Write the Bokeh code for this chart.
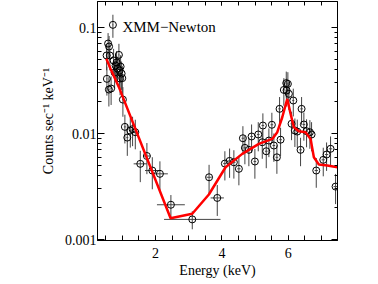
from bokeh.plotting import figure
from bokeh.models import (FixedTicker, LogAxis, LinearAxis, CustomJSTickFormatter,
                          Label, Range1d)
from bokeh.embed import file_html
from bokeh.resources import INLINE

# ---- data ----
energy = [0.533, 0.524, 0.569, 0.599, 0.623, 0.593, 0.660, 0.714, 0.735, 0.765,
          0.795, 0.825, 0.855, 0.895, 0.916, 0.946, 0.976, 0.931, 0.997, 1.015,
          1.075, 1.148, 1.238, 1.307, 1.389, 1.539, 1.738, 1.901, 2.130, 2.461,
          3.105, 3.611, 3.858, 4.087, 4.229, 4.358, 4.509, 4.630, 4.690, 4.810,
          4.892, 4.991, 5.093, 5.214, 5.232, 5.334, 5.413, 5.503, 5.563, 5.654,
          5.735, 5.765, 5.864, 5.937, 5.985, 5.946, 6.015, 6.148, 6.096, 6.196,
          6.268, 6.398, 6.467, 6.548, 6.648, 6.699, 6.367, 6.840, 7.051, 7.151,
          7.271, 7.422]
rate = [0.0328, 0.0545, 0.0706, 0.0662, 0.0545, 0.0260, 0.0266, 0.106, 0.0489, 0.0376,
        0.0438, 0.0468, 0.0410, 0.0552, 0.0393, 0.0428, 0.0368, 0.0330, 0.0333, 0.0209,
        0.01156, 0.00916, 0.01067, 0.0110, 0.0103, 0.00518, 0.00614, 0.00448, 0.00417, 0.00213,
        0.00155, 0.00387, 0.00247, 0.00521, 0.00552, 0.00536, 0.00465, 0.00903, 0.00733, 0.00702,
        0.00938, 0.00545, 0.0098, 0.00828, 0.0119, 0.00681, 0.00859, 0.0121, 0.00771, 0.00597,
        0.0171, 0.00875, 0.0258, 0.0299, 0.0294, 0.0255, 0.0237, 0.0205, 0.01236, 0.01067,
        0.01044, 0.0171, 0.01216, 0.01052, 0.01028, 0.0098, 0.00702, 0.00448, 0.00565, 0.00634,
        0.00718, 0.00316]
energy_err = [0.015, 0.015, 0.015, 0.015, 0.015, 0.015, 0.015, 0.015, 0.015, 0.015,
              0.015, 0.015, 0.015, 0.015, 0.015, 0.015, 0.015, 0.015, 0.015, 0.02,
              0.03, 0.03, 0.04, 0.04, 0.04, 0.2, 0.1, 0.22, 0.24, 0.42,
              0.85, 0.08, 0.2, 0.05, 0.05, 0.05, 0.05, 0.04, 0.04, 0.04,
              0.04, 0.04, 0.04, 0.04, 0.04, 0.04, 0.04, 0.04, 0.04, 0.04,
              0.04, 0.04, 0.03, 0.03, 0.03, 0.03, 0.03, 0.03, 0.03, 0.03,
              0.03, 0.04, 0.04, 0.04, 0.04, 0.04, 0.04, 0.05, 0.05, 0.05,
              0.05, 0.06]
rate_err = [0.010, 0.015, 0.018, 0.017, 0.015, 0.008, 0.008, 0.026, 0.014, 0.011,
            0.013, 0.013, 0.012, 0.015, 0.012, 0.012, 0.011, 0.010, 0.010, 0.0065,
            0.0035, 0.003, 0.0033, 0.0034, 0.0032, 0.0017, 0.002, 0.0015, 0.0013, 0.0005,
            0.0003, 0.0012, 0.0008, 0.0016, 0.0017, 0.0016, 0.0014, 0.0027, 0.0022, 0.0021,
            0.0028, 0.0017, 0.003, 0.0025, 0.0036, 0.0021, 0.0026, 0.0036, 0.0023, 0.0018,
            0.005, 0.0026, 0.0075, 0.0085, 0.0085, 0.0075, 0.007, 0.006, 0.0037, 0.0032,
            0.0031, 0.005, 0.0036, 0.0031, 0.0031, 0.003, 0.0021, 0.0014, 0.0017, 0.0019,
            0.0022, 0.001]

model_energy = [0.515, 0.645, 0.895, 2.452, 3.105, 3.605, 4.108, 4.611, 5.111, 5.515,
                5.666, 5.816, 5.967, 6.066, 6.166, 6.316, 6.518, 6.669, 6.768, 6.919,
                7.172, 7.48]
model_rate = [0.0507, 0.0407, 0.0274, 0.00159, 0.00175, 0.00266, 0.00481, 0.00643, 0.0080, 0.0089,
              0.0103, 0.01425, 0.0212, 0.01535, 0.01146, 0.0105, 0.0103, 0.0089, 0.00597, 0.0051,
              0.0050, 0.0048]

x_major = [2, 4, 6]
x_minor = [0.5 * i for i in range(1, 15)]
y_major = [0.001, 0.01, 0.1]
y_minor = [m * d for d in (0.001, 0.01, 0.1) for m in range(1, 10)]

FONT = "Liberation Serif"

p = figure(width=347, height=284,
           x_range=Range1d(0.25, 7.48), y_range=Range1d(0.00098, 0.176),
           y_axis_type="log", output_backend="svg", toolbar_location=None,
           min_border_left=97, min_border_right=10, min_border_top=1,
           min_border_bottom=44)
p.grid.visible = False
p.outline_line_color = "black"
p.outline_line_width = 1
p.background_fill_color = "white"
p.border_fill_color = "white"

# bottom axis
xa = p.xaxis[0]
xa.ticker = FixedTicker(ticks=x_major, minor_ticks=x_minor)
xa.major_tick_in = 5
xa.major_tick_out = 0
xa.minor_tick_in = 5
xa.minor_tick_out = 0
xa.major_label_standoff = 7
xa.major_label_text_font = FONT
xa.major_label_text_font_size = "14px"
xa.axis_label = "Energy (keV)"
xa.axis_label_text_font = FONT
xa.axis_label_text_font_size = "14px"
xa.axis_label_text_font_style = "normal"
xa.axis_label_standoff = 2

# left axis
ya = p.yaxis[0]
ya.ticker = FixedTicker(ticks=y_major, minor_ticks=y_minor)
ya.formatter = CustomJSTickFormatter(code="return tick.toString();")
ya.major_tick_in = 7
ya.major_tick_out = 0
ya.minor_tick_in = 4
ya.minor_tick_out = 0
ya.major_label_standoff = 1
ya.major_label_text_font = FONT
ya.major_label_text_font_size = "14px"
ya.axis_label = "Counts sec\u207b\u00b9 keV\u207b\u00b9"
ya.axis_label_text_font = FONT
ya.axis_label_text_font_size = "14px"
ya.axis_label_text_font_style = "normal"
ya.axis_label_standoff = 6

for ax in (xa, ya):
    ax.axis_line_color = "black"
    ax.major_tick_line_color = "black"
    ax.minor_tick_line_color = "black"
    ax.major_label_text_color = "black"
    ax.axis_label_text_color = "black"

# mirror axes (ticks only, no labels)
ra = LogAxis(ticker=FixedTicker(ticks=y_major, minor_ticks=y_minor),
             major_tick_in=6, major_tick_out=0, minor_tick_in=3, minor_tick_out=0,
             major_label_standoff=0, axis_line_color="black")
ra.major_label_text_font_size = "1px"
ra.major_label_text_alpha = 0
ra.major_label_overrides = {t: "" for t in y_major}
p.add_layout(ra, "right")
ta = LinearAxis(ticker=FixedTicker(ticks=x_major, minor_ticks=x_minor),
                major_tick_in=4, major_tick_out=0, minor_tick_in=4, minor_tick_out=0,
                major_label_standoff=0, axis_line_color="black")
ta.major_label_text_font_size = "1px"
ta.major_label_text_alpha = 0
ta.major_label_overrides = {t: "" for t in x_major}
p.add_layout(ta, "above")

# error bars
p.segment(x0=[e - d for e, d in zip(energy, energy_err)], y0=rate,
          x1=[e + d for e, d in zip(energy, energy_err)], y1=rate,
          line_color="#444444", line_width=1)
p.segment(x0=energy, y0=[r - d for r, d in zip(rate, rate_err)],
          x1=energy, y1=[r + d for r, d in zip(rate, rate_err)],
          line_color="#444444", line_width=1)
p.scatter(energy, rate, marker="circle", size=7, fill_color=None,
          line_color="black", line_width=1)

# model
p.line(model_energy, model_rate, line_color="red", line_width=2.5)

p.add_layout(Label(x=1.0, y=0.102, text="XMM\u2212Newton", text_font=FONT,
                   text_font_size="15px", text_baseline="alphabetic",
                   text_color="black"))

open("out.html", "w").write(file_html(p, INLINE))
